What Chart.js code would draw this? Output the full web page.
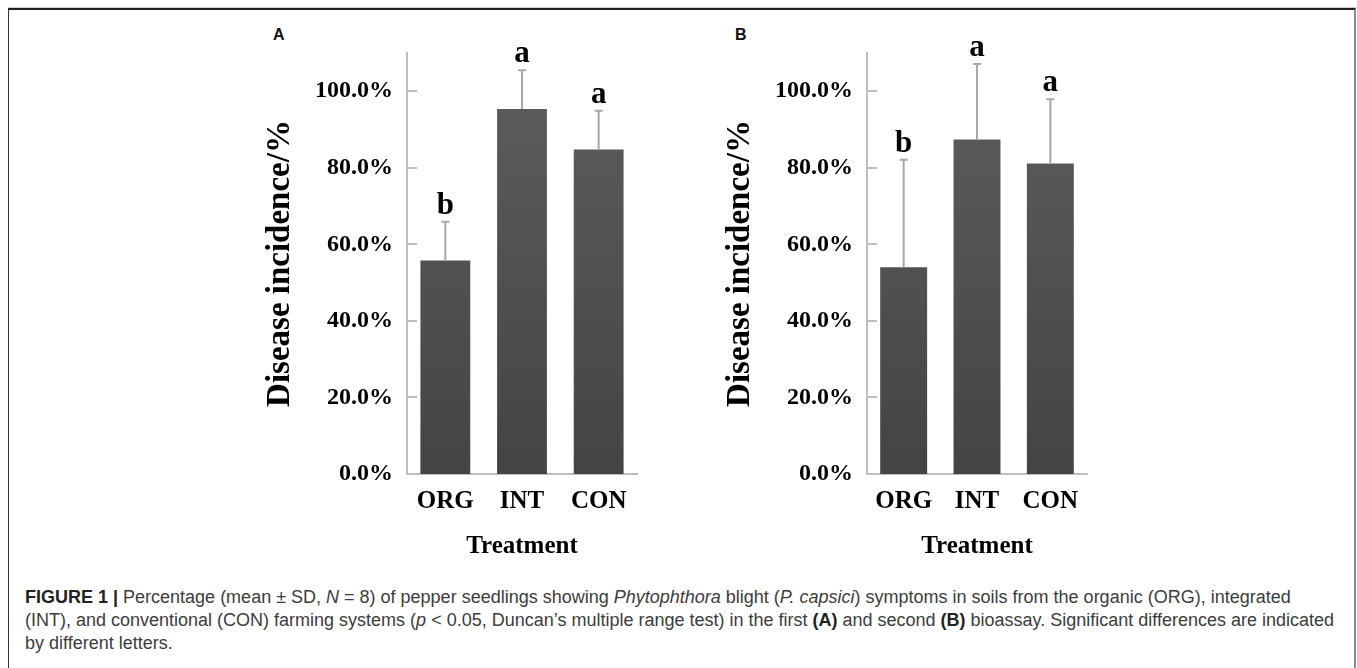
<!DOCTYPE html>
<html>
<head>
<meta charset="utf-8">
<script src="https://cdn.jsdelivr.net/npm/chart.js@4.4.1/dist/chart.umd.min.js"></script>
<style>
  html, body { margin: 0; padding: 0; background: #fff; }
  body { width: 1357px; height: 668px; overflow: hidden; position: relative; }
  .frame { position: absolute; left: 8px; top: 8px; width: 1345px; height: 720px;
           border-top: 2px solid #1e1e1e; border-left: 1px solid #333; border-right: 2px solid #8c8c8c;
           box-shadow: 0 -1px 0 #d0d0d0; }
  .panel { position: absolute; top: 20px; width: 420px; height: 560px; }
  .tag { position: absolute; top: 26px; font: bold 16px "Liberation Sans", Arial, sans-serif; color: #111; }
  .caption { position: absolute; left: 25px; top: 586px; width: 1320px;
             font: 18px/23px "Liberation Sans", Arial, sans-serif; color: #3c3c3c; white-space: nowrap; }
  .caption b { color: #222; }
</style>
</head>
<body>
<div class="frame"></div>
<div class="tag" style="left:273px">A</div>
<div class="tag" style="left:735px">B</div>
<div class="panel" style="left:240px"><canvas id="chartA"></canvas></div>
<div class="panel" style="left:700px"><canvas id="chartB"></canvas></div>
<div class="caption">
  <b>FIGURE 1 |</b> Percentage (mean ± SD, <i>N</i> = 8) of pepper seedlings showing <i>Phytophthora</i> blight (<i>P. capsici</i>) symptoms in soils from the organic (ORG), integrated<br>
  (INT), and conventional (CON) farming systems (<i>p</i> &lt; 0.05, Duncan’s multiple range test) in the first <b>(A)</b> and second <b>(B)</b> bioassay. Significant differences are indicated<br>
  by different letters.
</div>
<script>
// values (percent)
const categories = ['ORG', 'INT', 'CON'];
const meanA = [55.8, 95.4, 84.8];
const sdA = [10.1, 10.1, 10.1];
const lettersA = ['b', 'a', 'a'];
const meanB = [54.0, 87.4, 81.1];
const sdB = [28.1, 19.7, 16.8];
const lettersB = ['b', 'a', 'a'];
const yTicks = [0, 20, 40, 60, 80, 100];
const yMax = 110;

const SERIF = '"Liberation Serif", "Times New Roman", serif';
const AXIS = '#bdbdbd';

const extras = {
    id: 'extras',
    afterDatasetsDraw(chart, args, opts) {
        const { ctx, chartArea } = chart;
        const y = chart.scales.y;
        const meta = chart.getDatasetMeta(0);
        ctx.save();
        // tick marks point inward like the original
        ctx.strokeStyle = AXIS; ctx.lineWidth = 2;
        y.ticks.forEach(t => {
            const py = Math.round(y.getPixelForValue(t.value));
            ctx.beginPath(); ctx.moveTo(chartArea.left, py); ctx.lineTo(chartArea.left + 10, py); ctx.stroke();
        });
        meta.data.forEach((bar, i) => {
            const yMean = y.getPixelForValue(opts.mean[i]);
            const yTop = y.getPixelForValue(opts.mean[i] + opts.sd[i]);
            ctx.strokeStyle = '#a8a8a8'; ctx.lineWidth = 2;
            ctx.beginPath();
            ctx.moveTo(bar.x, yMean); ctx.lineTo(bar.x, yTop);
            ctx.moveTo(bar.x - 4, yTop); ctx.lineTo(bar.x + 4, yTop);
            ctx.stroke();
            ctx.fillStyle = '#000';
            ctx.font = 'bold 31px ' + SERIF;
            ctx.textAlign = 'center'; ctx.textBaseline = 'alphabetic';
            ctx.fillText(opts.letters[i], bar.x, yTop - 8);
        });
        ctx.restore();
    }
};

function barFill(context) {
    const area = context.chart.chartArea;
    if (!area) return '#555';
    const g = context.chart.ctx.createLinearGradient(0, area.top, 0, area.bottom);
    g.addColorStop(0, '#5e5e5e');
    g.addColorStop(1, '#444444');
    return g;
}

function makeChart(id, mean, sd, letters, rightPad, barPct) {
    return new Chart(document.getElementById(id), {
        type: 'bar',
        data: { labels: categories, datasets: [{ data: mean, backgroundColor: barFill, borderWidth: 0, barPercentage: barPct, categoryPercentage: 1 }] },
        options: {
            responsive: true, maintainAspectRatio: false, animation: false,
            layout: { padding: { left: 21, right: rightPad, top: 33, bottom: 18 } },
            plugins: { legend: { display: false }, tooltip: { enabled: false }, extras: { mean, sd, letters } },
            scales: {
                x: {
                    grid: { display: false, drawTicks: false },
                    border: { color: AXIS, width: 2 },
                    ticks: { color: '#000', padding: 13, font: { family: SERIF, size: 25, weight: 'bold' } },
                    title: { display: true, text: 'Treatment', color: '#000', padding: 0, font: { family: SERIF, size: 25, weight: 'bold' } },
                    afterFit: s => { s.height = 88; }
                },
                y: {
                    min: 0, max: yMax,
                    grid: { display: false, drawTicks: false },
                    border: { color: AXIS, width: 2 },
                    afterBuildTicks: s => { s.ticks = yTicks.map(v => ({ value: v })); },
                    ticks: { color: '#000', padding: 14, font: { family: SERIF, size: 24, weight: 'bold' }, callback: v => v.toFixed(1) + '%' },
                    title: { display: true, text: 'Disease incidence/%', color: '#000', padding: 0, font: { family: SERIF, size: 33, weight: 'bold' } },
                    afterFit: s => { s.width = 146; }
                }
            }
        },
        plugins: [extras]
    });
}

makeChart('chartA', meanA, sdA, lettersA, 23, 0.65);
makeChart('chartB', meanB, sdB, lettersB, 33, 0.64);
</script>
</body>
</html>
